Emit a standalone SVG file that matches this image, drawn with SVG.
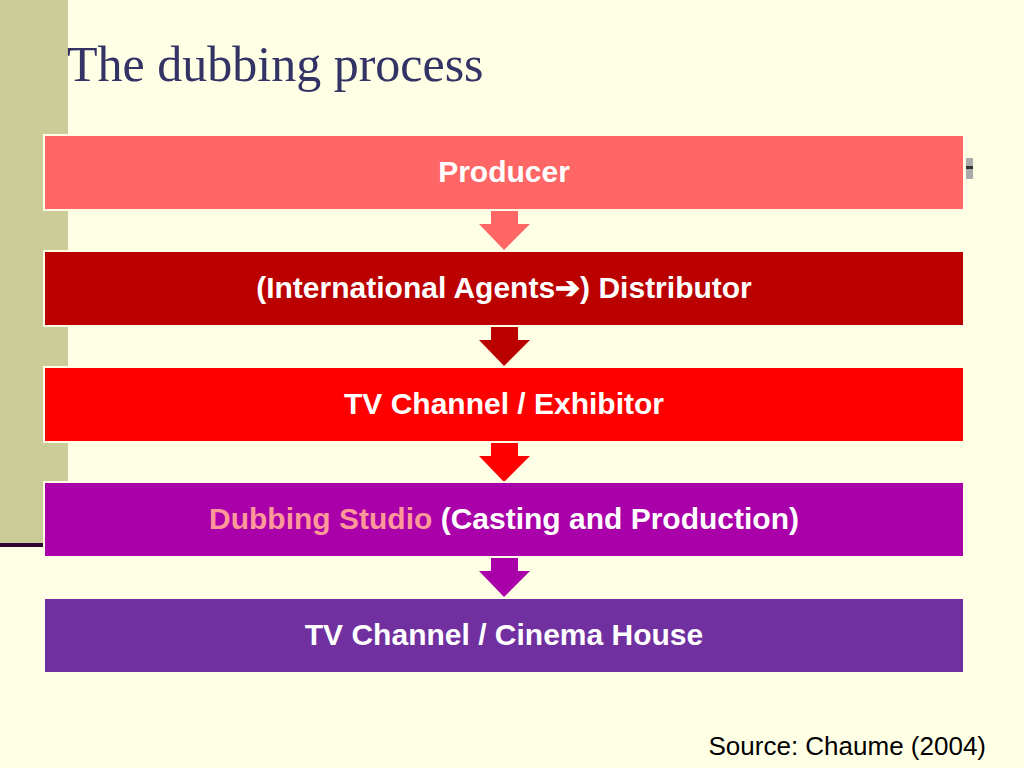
<svg xmlns="http://www.w3.org/2000/svg" width="1024" height="768" viewBox="0 0 1024 768">
<style>
.box{stroke:#fffde6;stroke-width:2}
.t{font-family:"Liberation Sans",Arial,sans-serif;font-weight:bold;font-size:30px;fill:#fff;text-anchor:middle}
</style>
<rect width="1024" height="768" fill="#ffffe6"/>
<rect x="0" y="0" width="68" height="545" fill="#cccc99"/>
<rect x="0" y="543" width="43" height="4" fill="#330033"/>
<text x="67" y="81" font-family="Liberation Serif,serif" font-size="50" fill="#333366">The dubbing process</text>
<rect x="966" y="158" width="7" height="21" fill="#aaa"/>
<rect x="966" y="166" width="7" height="3" fill="#333"/>
<g id="connectors">
<polygon points="491,209 518,209 518,224 530,224 504,250 479,224 491,224" fill="#ff6666"/>
<polygon points="491,325 518,325 518,340 530,340 504,366 479,340 491,340" fill="#bb0000"/>
<polygon points="491,441 518,441 518,456 530,456 504,482 479,456 491,456" fill="#ff0000"/>
<polygon points="491,556 518,556 518,571 530,571 504,597 479,571 491,571" fill="#aa00aa"/>
</g>
<g id="n1"><rect class="box" x="44" y="135" width="920" height="75" fill="#ff6666"/><text class="t" x="504" y="182">Producer</text></g>
<g id="n2"><rect class="box" x="44" y="251" width="920" height="75" fill="#bb0000"/><text class="t" x="504" y="298">(International Agents➔) Distributor</text></g>
<g id="n3"><rect class="box" x="44" y="367" width="920" height="75" fill="#ff0000"/><text class="t" x="504" y="414">TV Channel / Exhibitor</text></g>
<g id="n4"><rect class="box" x="44" y="482" width="920" height="75" fill="#aa00aa"/><text class="t" x="504" y="529"><tspan fill="#ff9999">Dubbing Studio</tspan> (Casting and Production)</text></g>
<g id="n5"><rect class="box" x="44" y="598" width="920" height="75" fill="#7030a0"/><text class="t" x="504" y="645">TV Channel / Cinema House</text></g>
<text x="986" y="755" font-family="Liberation Sans,Arial,sans-serif" font-size="26" fill="#000" text-anchor="end">Source: Chaume (2004)</text>
</svg>
